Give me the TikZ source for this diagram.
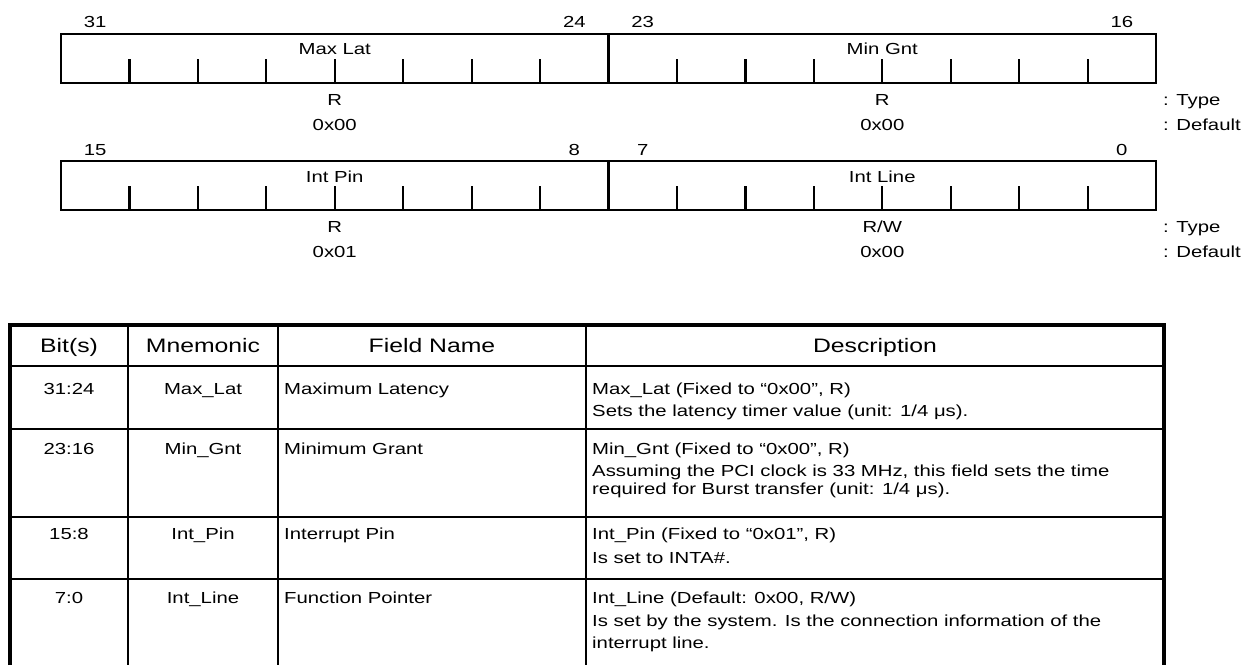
\documentclass[tikz,border=0pt]{standalone}
\usepackage{fontspec}
\setmainfont{Liberation Sans}[FakeStretch=1.27]
\begin{document}
\begin{tikzpicture}[x=1pt,y=-1pt,line join=miter,
  every node/.style={inner sep=0pt,anchor=base,font=\fontsize{16}{19}\selectfont},
  regline/.style={line width=2.7pt},
  bittick/.style={line width=2.2pt},
  hdr/.style={font=\fontsize{19.5}{23}\selectfont},
  txt/.style={anchor=base west},
  frame/.style={line width=4.6pt},
  rule/.style={line width=2.6pt}]
\useasboundingbox (0,0) rectangle (1250,665);
\def\bw{68.44}
% upper register, bits 31..16
\draw[regline] (61,34) rectangle (1156,83);
\draw[regline] (61+8*\bw,34) -- (61+8*\bw,83);
\foreach \k in {1,...,15} \draw[bittick] (61+\k*\bw,59) -- (61+\k*\bw,83);
\node (b31) at (61+0.5*\bw,27) {31};
\node (b24) at (61+7.5*\bw,27) {24};
\node (b23) at (61+8.5*\bw,27) {23};
\node (b16) at (61+15.5*\bw,27) {16};
\node (maxlat) at (61+4*\bw,54) {Max Lat};
\node (mingnt) at (61+12*\bw,54) {Min Gnt};
\node (maxlatT) at (61+4*\bw,105) {R};
\node (mingntT) at (61+12*\bw,105) {R};
\node (maxlatD) at (61+4*\bw,130) {0x00};
\node (mingntD) at (61+12*\bw,130) {0x00};
\node[txt] (typeA) at (1163,105) {: Type};
\node[txt] (defA) at (1163,130) {: Default};
% lower register, bits 15..0
\draw[regline] (61,161) rectangle (1156,210);
\draw[regline] (61+8*\bw,161) -- (61+8*\bw,210);
\foreach \k in {1,...,15} \draw[bittick] (61+\k*\bw,186) -- (61+\k*\bw,210);
\node (b15) at (61+0.5*\bw,155) {15};
\node (b8) at (61+7.5*\bw,155) {8};
\node (b7) at (61+8.5*\bw,155) {7};
\node (b0) at (61+15.5*\bw,155) {0};
\node (intpin) at (61+4*\bw,182) {Int Pin};
\node (intline) at (61+12*\bw,182) {Int Line};
\node (intpinT) at (61+4*\bw,232) {R};
\node (intlineT) at (61+12*\bw,232) {R/W};
\node (intpinD) at (61+4*\bw,257) {0x01};
\node (intlineD) at (61+12*\bw,257) {0x00};
\node[txt] (typeB) at (1163,232) {: Type};
\node[txt] (defB) at (1163,257) {: Default};
% table grid
\draw[frame] (10,665) -- (10,325) -- (1164,325) -- (1164,665);
\draw[rule] (10,366) -- (1164,366);
\foreach \y in {429,517,579} \draw[rule] (10,\y) -- (1164,\y);
\foreach \x in {128,278,586} \draw[rule] (\x,325) -- (\x,665);
% header
\node[hdr] (hBit) at (69,352.5) {Bit(s)};
\node[hdr] (hMn) at (203,352.5) {Mnemonic};
\node[hdr] (hFld) at (432,352.5) {Field Name};
\node[hdr] (hDsc) at (875,352.5) {Description};
% 31:24
\node (bit1) at (69,394) {31:24};
\node (mn1) at (203,394) {Max\_Lat};
\node[txt] (fld1) at (284,394) {Maximum Latency};
\node[txt] (dsc1a) at (592,394) {Max\_Lat (Fixed to “0x00”, R)};
\node[txt] (dsc1b) at (592,416) {Sets the latency timer value (unit: 1/4 μs).};
% 23:16
\node (bit2) at (69,454) {23:16};
\node (mn2) at (203,454) {Min\_Gnt};
\node[txt] (fld2) at (284,454) {Minimum Grant};
\node[txt] (dsc2a) at (592,454) {Min\_Gnt (Fixed to “0x00”, R)};
\node[txt] (dsc2b) at (592,476) {Assuming the PCI clock is 33 MHz, this field sets the time};
\node[txt] (dsc2c) at (592,494) {required for Burst transfer (unit: 1/4 μs).};
% 15:8
\node (bit3) at (69,539) {15:8};
\node (mn3) at (203,539) {Int\_Pin};
\node[txt] (fld3) at (284,539) {Interrupt Pin};
\node[txt] (dsc3a) at (592,539) {Int\_Pin (Fixed to “0x01”, R)};
\node[txt] (dsc3b) at (592,563) {Is set to INTA\#.};
% 7:0
\node (bit4) at (69,603) {7:0};
\node (mn4) at (203,603) {Int\_Line};
\node[txt] (fld4) at (284,603) {Function Pointer};
\node[txt] (dsc4a) at (592,603) {Int\_Line (Default: 0x00, R/W)};
\node[txt] (dsc4b) at (592,626) {Is set by the system. Is the connection information of the};
\node[txt] (dsc4c) at (592,648) {interrupt line.};
\end{tikzpicture}
\end{document}
